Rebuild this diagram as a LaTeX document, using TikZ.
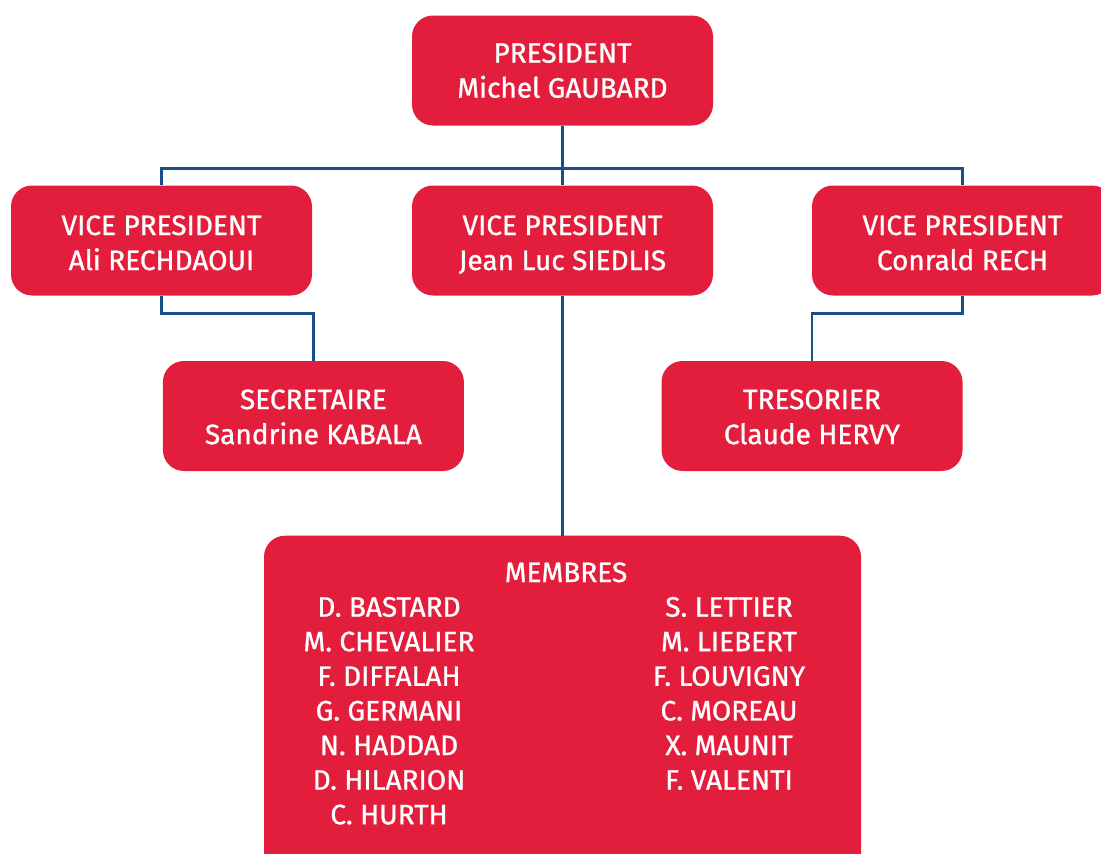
\documentclass[tikz,border=0pt]{standalone}
\usepackage{fontspec}
\setmainfont{Fira Sans}[FakeBold=1]
\usetikzlibrary{positioning}
\definecolor{boxred}{HTML}{E31E3C}
\definecolor{lineblue}{HTML}{1B4F8A}
\newcommand{\posttext}[3][-3.6pt]{\raisebox{#1}[\height][\depth]{\begin{tabular}{@{}c@{}}#2\\#3\end{tabular}}}

\begin{document}
\begin{tikzpicture}[x=1pt, y=-1pt,
    postbox/.style={rectangle, rounded corners=21pt, minimum width=301pt, minimum height=110pt, fill=boxred, text=white, inner sep=0pt, font=\fontsize{28}{35}\selectfont},
    listname/.style={text=white, anchor=base, inner sep=0pt, font=\fontsize{28}{35}\selectfont},
    link/.style={draw=lineblue, line width=2.5pt}]
    \useasboundingbox (0,0) rectangle (1101,854);
    \clip (0,0) rectangle (1101,854);
    \node[postbox] (pres) at (562.5,70.5) {\posttext[-2.6pt]{PRESIDENT}{Michel GAUBARD}};
    \node[postbox] (vpA) at (161.5,240.5) {\posttext[-5pt]{VICE PRESIDENT}{Ali RECHDAOUI}};
    \node[postbox] (vpB) at (562.5,240.5) {\posttext[-5pt]{VICE PRESIDENT}{Jean Luc SIEDLIS}};
    \node[postbox] (vpC) at (962.5,240.5) {\posttext[-5pt]{VICE PRESIDENT}{Conrald RECH}}; % cut by the right edge
    \node[postbox] (secr) at (313.4,416) {\posttext{SECRETAIRE}{Sandrine KABALA}};
    \node[postbox] (treso) at (812,416) {\posttext{TRESORIER}{Claude HERVY}};
    \node[postbox, minimum width=597pt, minimum height=340pt, anchor=north] (memb) at (562.5,535.5) {}; % cut by the bottom edge
    \node[listname] (membT) at (566,582) {MEMBRES};
    \foreach \who [count=\i] in {D. BASTARD, M. CHEVALIER, F. DIFFALAH, G. GERMANI, N. HADDAD, D. HILARION, C. HURTH}
        \node[listname] (membL\i) at (389,582+34.6*\i) {\who};
    \foreach \who [count=\i] in {S. LETTIER, M. LIEBERT, F. LOUVIGNY, C. MOREAU, X. MAUNIT, F. VALENTI}
        \node[listname] (membR\i) at (729,582+34.6*\i) {\who};
    % links
    \draw[link] (pres.south) -- (vpB.north);
    \draw[link] (vpA.north) -- ++(0,-17) -| (vpC.north);
    \draw[link] (vpA.south) -- ++(0,18) -| (secr.north);
    \draw[link] (vpC.south) -- ++(0,18) -| (treso.north);
    \draw[link] (vpB.south) -- (memb.north);
\end{tikzpicture}
\end{document}
